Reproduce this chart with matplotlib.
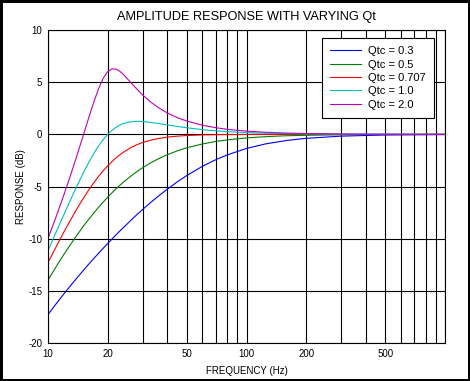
import matplotlib
matplotlib.use('Agg')
import matplotlib.pyplot as plt
from matplotlib.ticker import FixedLocator, NullLocator

plt.rcParams['font.family'] = ['Liberation Sans', 'DejaVu Sans']

# frequency points (Hz)
freq = [10, 11, 12, 13, 14, 15, 16, 17, 18, 19, 20, 21, 22, 23, 24, 26, 28, 30,
        33, 36, 40, 45, 50, 60, 70, 80, 100, 125, 160, 200, 300, 500, 1000]

# response (dB) for each Qtc
resp_03 = [-17.28, -16.24, -15.32, -14.50, -13.76, -13.09, -12.47, -11.91, -11.39,
           -10.91, -10.46, -10.04, -9.64, -9.27, -8.93, -8.29, -7.71, -7.20,
           -6.51, -5.92, -5.24, -4.53, -3.95, -3.06, -2.43, -1.97, -1.35, -0.91,
           -0.58, -0.38, -0.17, -0.06, -0.02]
resp_05 = [-13.98, -12.68, -11.54, -10.55, -9.66, -8.87, -8.17, -7.55, -6.98,
           -6.48, -6.02, -5.61, -5.23, -4.89, -4.58, -4.04, -3.58, -3.19,
           -2.72, -2.34, -1.94, -1.57, -1.29, -0.92, -0.68, -0.53, -0.34, -0.22,
           -0.13, -0.09, -0.04, -0.01, 0.0]
resp_0707 = [-12.30, -10.77, -9.40, -8.20, -7.13, -6.19, -5.37, -4.65, -4.02,
             -3.48, -3.01, -2.61, -2.26, -1.96, -1.71, -1.30, -1.00, -0.78,
             -0.55, -0.40, -0.26, -0.17, -0.11, -0.05, -0.03, -0.02, -0.01, 0.0,
             0.0, 0.0, 0.0, 0.0, 0.0]
resp_10 = [-11.14, -9.36, -7.74, -6.27, -4.95, -3.77, -2.74, -1.85, -1.10,
           -0.49, 0.0, 0.38, 0.67, 0.89, 1.04, 1.20, 1.25, 1.23,
           1.15, 1.04, 0.90, 0.75, 0.63, 0.45, 0.34, 0.26, 0.17, 0.11,
           0.07, 0.04, 0.02, 0.01, 0.0]
resp_20 = [-10.00, -7.88, -5.86, -3.91, -2.02, -0.21, 1.51, 3.07, 4.39,
           5.40, 6.02, 6.28, 6.26, 6.05, 5.74, 5.02, 4.35, 3.77,
           3.08, 2.56, 2.04, 1.59, 1.28, 0.87, 0.64, 0.48, 0.31, 0.20,
           0.12, 0.08, 0.03, 0.01, 0.0]

labels = ['Qtc = 0.3', 'Qtc = 0.5', 'Qtc = 0.707', 'Qtc = 1.0', 'Qtc = 2.0']
colors = ['#0000FF', '#008000', '#FF0000', '#00BFBF', '#BF00BF']

grid_x = [10, 20, 30, 40, 50, 60, 70, 80, 90, 100,
          200, 300, 400, 500, 600, 700, 800, 900, 1000]
xtick_text = {10: '10', 20: '20', 50: '50', 100: '100', 200: '200', 500: '500'}
yticks = [-20, -15, -10, -5, 0, 5, 10]

fig = plt.figure(figsize=(4.7, 3.81), dpi=100)
fig.patch.set_edgecolor('black')
fig.patch.set_linewidth(2.5)
ax = fig.add_axes([0.102, 0.0997, 0.845, 0.8215])

for ys, c, lab in zip([resp_03, resp_05, resp_0707, resp_10, resp_20], colors, labels):
    ax.plot(freq, ys, color=c, lw=0.8, label=lab)

ax.set_xscale('log')
ax.set_xlim(10, 1000)
ax.set_ylim(-20, 10)
ax.xaxis.set_major_locator(FixedLocator(grid_x))
ax.xaxis.set_minor_locator(NullLocator())
ax.set_xticklabels([xtick_text.get(v, '') for v in grid_x])
ax.set_yticks(yticks)
ax.set_yticklabels([str(v) for v in yticks])
ax.tick_params(length=0, labelsize=7, pad=4)
ax.grid(True, color='black', lw=0.8)
ax.set_axisbelow(True)
for s in ax.spines.values():
    s.set_linewidth(0.8)

ax.set_title('AMPLITUDE RESPONSE WITH VARYING Qt', fontsize=9.2, pad=7)
ax.set_xlabel('FREQUENCY (Hz)', fontsize=7, labelpad=5)
ax.set_ylabel('RESPONSE (dB)', fontsize=7, labelpad=2)

leg = ax.legend(loc='upper right', bbox_to_anchor=(0.972, 0.975), fontsize=8,
                fancybox=False, framealpha=1, edgecolor='black',
                handlelength=2.8, handletextpad=0.6, labelspacing=0.3,
                borderpad=0.75, borderaxespad=0)
leg.get_frame().set_linewidth(0.8)

fig.savefig('out.png', dpi=100)
